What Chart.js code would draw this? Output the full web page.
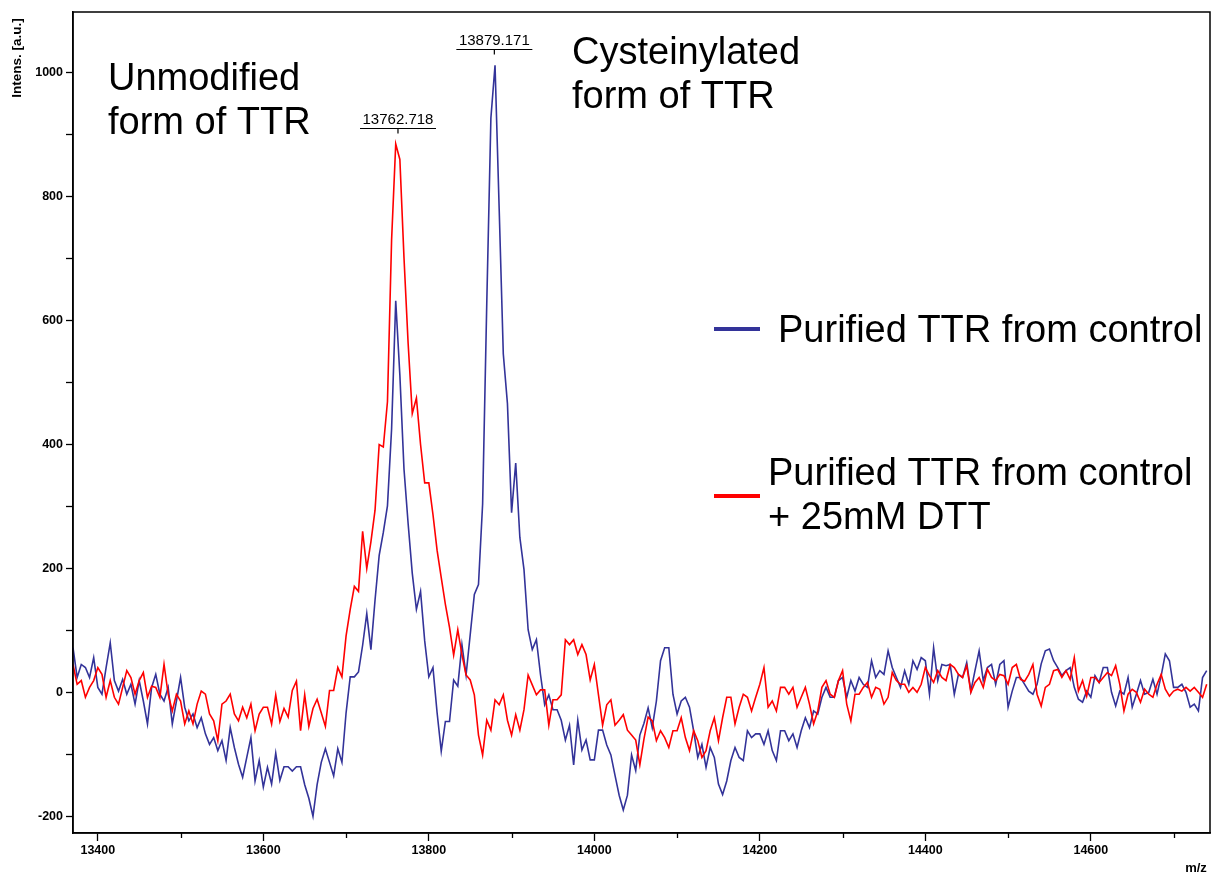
<!DOCTYPE html>
<html>
<head>
<meta charset="utf-8">
<script src="https://cdn.jsdelivr.net/npm/chart.js@4.4.1/dist/chart.umd.min.js"></script>
<style>
  html, body { margin: 0; padding: 0; background: #fff; }
  canvas { display: block; }
</style>
</head>
<body>
<canvas id="c" width="1214" height="878"></canvas>
<script>
// m/z positions (Da)
const mz = [
13370,13375,13380,13385,13390,13395,13400,13405,13410,13415,
13420,13425,13430,13435,13440,13445,13450,13455,13460,13465,
13470,13475,13480,13485,13490,13495,13500,13505,13510,13515,
13520,13525,13530,13535,13540,13545,13550,13555,13560,13565,
13570,13575,13580,13585,13590,13595,13600,13605,13610,
13615,13620,13625,13630,13635,13640,13645,13650,13655,13660,
13665,13670,13675,13680,13685,13690,13695,13700,13705,13710,
13715,13720,13725,13730,13735,13740,13745,13750,13755,13760,
13765,13770,13775,13780,13785,13790,13795,13800,13805,13810,
13815,13820,13825,13830,13835,
13840,13845,13850,13855,13860,13865,13870,13875,13880,13885,
13890,13895,13900,13905,13910,13915,13920,13925,13930,13935,
13940,13945,13950,13955,13960,13965,13970,13975,13980,13985,
13990,13995,14000,14005,14010,14015,14020,14025,14030,14035,
14040,14045,14050,14055,14060,14065,
14070,14075,14080,14085,14090,14095,14100,14105,14110,14115,
14120,14125,14130,14135,14140,14145,14150,14155,14160,14165,
14170,14175,14180,14185,14190,14195,14200,14205,14210,14215,
14220,14225,14230,14235,14240,14245,14250,14255,14260,14265,
14270,14275,14280,14285,14290,14295,
14300,14305,14310,14315,14320,14325,14330,14335,14340,14345,
14350,14355,14360,14365,14370,14375,14380,14385,14390,14395,
14400,14405,14410,14415,14420,14425,14430,14435,14440,14445,
14450,14455,14460,14465,14470,14475,14480,14485,14490,14495,
14500,14505,14510,14515,
14520,14525,14530,14535,14540,14545,14550,14555,14560,14565,
14570,14575,14580,14585,14590,14595,14600,14605,14610,14615,
14620,14625,14630,14635,14640,14645,14650,14655,14660,14665,
14670,14675,14680,14685,14690,14695,14700,14705,14710,14715,
14720,14725,14730,14735,14740
];

// Purified TTR from control (blue)
const controlIntensity = [
72,24,45,40,24,56,8,-3,40,80,
19,2,21,-3,13,-19,19,-14,-51,8,
29,-3,-14,8,-51,-14,24,-24,-46,-35,
-57,-41,-67,-84,-73,-94,-78,-110,-57,-89,
-116,-137,-105,-73,-143,-110,-153,-121,-148,
-98,-142,-120,-120,-127,-120,-120,-149,-171,-200,
-149,-113,-91,-113,-135,-91,-113,-33,25,25,
33,76,127,69,149,221,258,301,425,632,
512,360,272,192,134,163,83,25,40,-33,
-95,-47,-47,20,10,
77,28,93,158,174,304,627,927,1012,781,
546,466,290,370,250,198,101,69,85,28,
-20,-4,-28,-28,-45,-77,-53,-117,-45,-93,
-77,-109,-109,-61,-61,-85,-101,-134,-166,-190,
-166,-101,-126,-69,-50,-25,
-57,-14,51,72,72,-3,-35,-14,-8,-24,
-62,-105,-84,-121,-89,-105,-148,-165,-143,-110,
-89,-105,-110,-62,-73,-67,-67,-84,-62,-94,
-110,-62,-62,-78,-67,-89,-62,-41,-57,-30,
-35,-8,8,-8,-8,19,
24,-8,19,2,24,13,8,51,24,35,
29,67,40,24,8,35,13,51,37,56,
51,-3,72,19,45,43,45,-3,29,24,
48,2,35,67,19,40,45,13,45,51,
-24,2,24,24,
13,2,-3,13,46,67,70,51,40,27,
35,40,8,-11,-16,2,-8,27,16,40,
40,0,-22,2,-3,24,-24,-3,19,-3,
0,21,-3,27,62,51,8,8,13,0,
-24,-19,-30,24,35
];

// Purified TTR from control + 25mM DTT (red)
const dttIntensity = [
45,13,19,-8,8,19,40,29,-8,19,
-8,-19,8,35,24,-3,19,32,-8,10,
8,-8,45,-3,-30,-3,-14,-51,-30,-51,
-19,2,-3,-35,-46,-78,-19,-14,-3,-35,
-46,-24,-41,-19,-62,-35,-24,-24,-51,
-4,-47,-26,-40,3,18,-62,-4,-55,-26,
-11,-33,-55,3,3,40,25,91,134,171,
163,260,200,243,294,400,396,469,730,885,
860,701,563,450,475,400,338,338,287,229,
185,142,105,60,101,
61,28,20,-4,-69,-101,-45,-61,-12,-20,
-4,-45,-69,-36,-61,-28,28,12,-4,4,
4,-53,-12,-12,-4,85,77,85,61,77,
61,20,45,-4,-53,-20,-12,-53,-45,-36,
-61,-69,-77,-117,-75,-40,
-46,-78,-62,-73,-89,-62,-62,-41,-73,-94,
-62,-78,-105,-94,-62,-41,-78,-41,-8,-8,
-51,-24,-3,-8,-30,-8,13,40,-24,-14,
-30,8,8,-3,8,-24,-8,8,-19,-51,
-30,8,19,-3,-8,19,
35,-19,-46,-3,-3,8,16,-8,8,5,
-19,-8,32,19,13,13,0,8,0,13,
40,27,16,35,24,19,45,40,29,24,
43,0,16,24,8,37,24,19,29,27,
13,40,45,21,
18,29,45,-3,-22,8,13,35,37,24,
35,21,56,2,19,-6,24,24,16,24,
32,27,43,13,-30,-3,5,0,-16,5,
-3,-8,13,29,5,-6,2,5,2,8,
2,8,0,-8,13
];

const seriesNames = ['Purified TTR from control', 'Purified TTR from control + 25mM DTT'];
const xTickLabels = [13400, 13600, 13800, 14000, 14200, 14400, 14600];
const yTickLabels = [-200, 0, 200, 400, 600, 800, 1000];
const peakLabels = ['13762.718', '13879.171'];
const peakMz = [13762.718, 13879.171];
const peakSeries = [1, 0]; // 0 = control, 1 = DTT

const BLUE = '#333399';
const RED = '#ff0000';
const FONT = '"Liberation Sans", Arial, Helvetica, sans-serif';

const overlay = {
  id: 'overlay',
  afterDraw(chart) {
    const { ctx, chartArea: a, scales: { x, y } } = chart;
    ctx.save();
    // frame
    ctx.strokeStyle = '#000';
    ctx.lineWidth = 1.5;
    ctx.strokeRect(a.left, a.top, a.right - a.left, a.bottom - a.top);
    // minor x ticks (shorter)
    ctx.lineWidth = 1.3;
    x.ticks.forEach(t => {
      if (!xTickLabels.includes(t.value)) {
        const px = Math.round(x.getPixelForValue(t.value)) + 0.5;
        ctx.beginPath();
        ctx.moveTo(px, a.bottom);
        ctx.lineTo(px, a.bottom + 5);
        ctx.stroke();
      }
    });
    // axis titles
    ctx.fillStyle = '#000';
    ctx.font = 'bold 13.5px ' + FONT;
    ctx.save();
    ctx.translate(17, 58);
    ctx.rotate(-Math.PI / 2);
    ctx.textAlign = 'center';
    ctx.textBaseline = 'middle';
    ctx.fillText('Intens. [a.u.]', 0, 0);
    ctx.restore();
    ctx.font = 'bold 13px ' + FONT;
    ctx.textAlign = 'center';
    ctx.textBaseline = 'middle';
    ctx.fillText('m/z', 1196, 868);

    // peak labels
    const seriesData = [controlIntensity, dttIntensity];
    ctx.font = '15px ' + FONT;
    ctx.lineWidth = 1.2;
    peakMz.forEach((m, k) => {
      const data = seriesData[peakSeries[k]];
      let top = -Infinity;
      mz.forEach((v, i) => { if (Math.abs(v - m) <= 10) top = Math.max(top, data[i]); });
      const px = x.getPixelForValue(m);
      const py = Math.round(y.getPixelForValue(top) - 16) + 0.5;
      ctx.beginPath();
      ctx.moveTo(px - 38, py); ctx.lineTo(px + 38, py);
      ctx.moveTo(px, py); ctx.lineTo(px, py + 5);
      ctx.stroke();
      ctx.textAlign = 'center';
      ctx.textBaseline = 'alphabetic';
      ctx.fillText(peakLabels[k], px, py - 5);
    });

    // big annotations
    ctx.font = '38px ' + FONT;
    ctx.textAlign = 'left';
    ctx.textBaseline = 'alphabetic';
    ctx.fillText('Unmodified', 108, 90);
    ctx.fillText('form of TTR', 108, 134);
    ctx.fillText('Cysteinylated', 572, 64);
    ctx.fillText('form of TTR', 572, 108);

    // legend
    ctx.lineWidth = 4;
    ctx.strokeStyle = BLUE;
    ctx.beginPath(); ctx.moveTo(714, 329); ctx.lineTo(760, 329); ctx.stroke();
    ctx.strokeStyle = RED;
    ctx.beginPath(); ctx.moveTo(714, 496); ctx.lineTo(760, 496); ctx.stroke();
    ctx.fillStyle = '#000';
    ctx.fillText(seriesNames[0], 778, 342);
    ctx.fillText('Purified TTR from control', 768, 485);
    ctx.fillText('+ 25mM DTT', 768, 529);
    ctx.restore();
  }
};

const toPoints = arr => mz.map((m, i) => ({ x: m, y: arr[i] }));

new Chart(document.getElementById('c').getContext('2d'), {
  type: 'line',
  data: {
    datasets: [
      { label: seriesNames[1], data: toPoints(dttIntensity), borderColor: RED, borderWidth: 1.6, pointRadius: 0, tension: 0, fill: false },
      { label: seriesNames[0], data: toPoints(controlIntensity), borderColor: BLUE, borderWidth: 1.6, pointRadius: 0, tension: 0, fill: false }
    ]
  },
  options: {
    responsive: false,
    animation: false,
    devicePixelRatio: 1,
    layout: { padding: { top: 12, right: 4, left: 0, bottom: 0 } },
    plugins: { legend: { display: false }, tooltip: { enabled: false } },
    scales: {
      x: {
        type: 'linear', min: 13370, max: 14744,
        afterFit: s => { s.height = 45; },
        ticks: {
          stepSize: 100, includeBounds: false, autoSkip: false, maxRotation: 0, padding: 2,
          color: '#000', font: { family: FONT, size: 12.5, weight: 'bold' },
          callback: v => xTickLabels.includes(v) ? String(v) : ''
        },
        grid: {
          drawOnChartArea: false, drawTicks: true, tickLength: 8, tickWidth: 1.3,
          tickColor: c => (c.tick && xTickLabels.includes(c.tick.value)) ? '#000' : 'rgba(0,0,0,0)'
        },
        border: { display: true, color: '#000', width: 1.5 }
      },
      y: {
        type: 'linear', min: -227, max: 1098,
        afterFit: s => { s.width = 73; },
        ticks: {
          stepSize: 100, includeBounds: false, autoSkip: false, padding: 3,
          color: '#000', font: { family: FONT, size: 12.5, weight: 'bold' },
          callback: v => yTickLabels.includes(v) ? String(v) : ''
        },
        grid: { drawOnChartArea: false, drawTicks: true, tickLength: 7, tickWidth: 1.3, tickColor: '#000' },
        border: { display: true, color: '#000', width: 1.5 }
      }
    }
  },
  plugins: [overlay]
});
</script>
</body>
</html>
